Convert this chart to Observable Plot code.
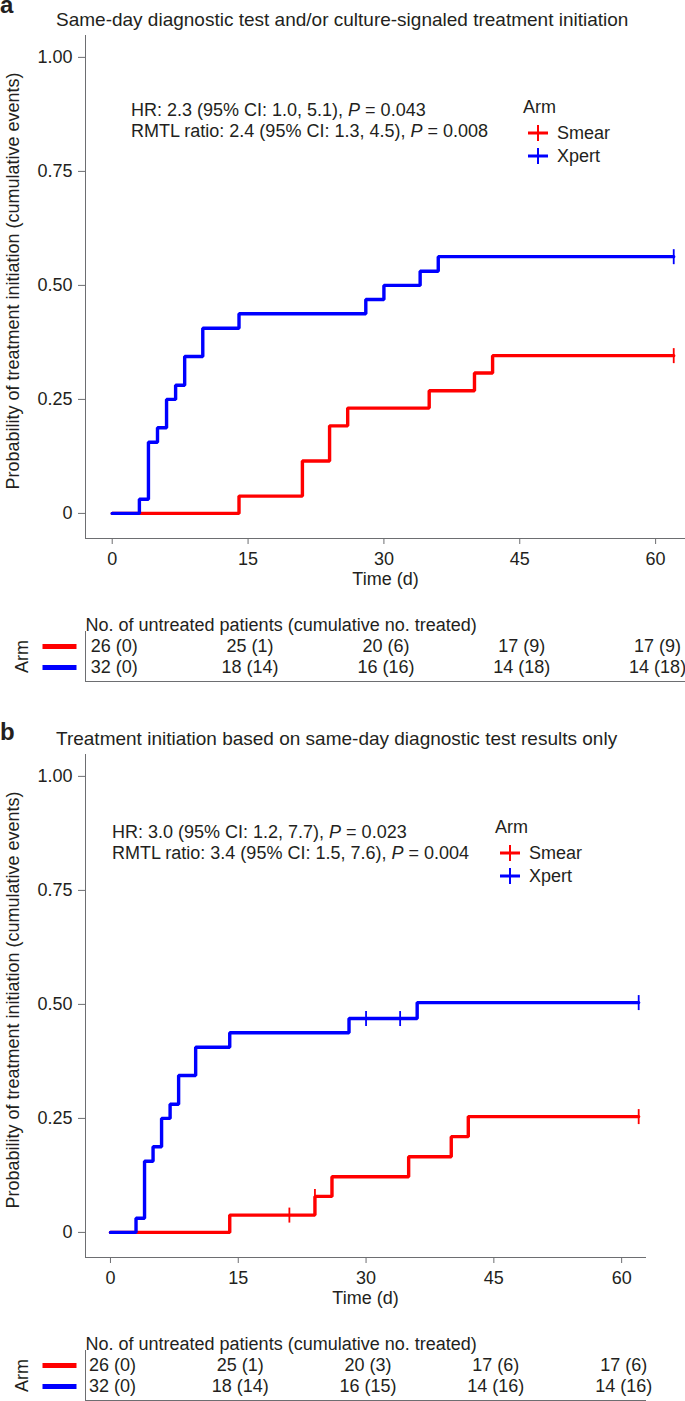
<!DOCTYPE html>
<html><head><meta charset="utf-8">
<script src="https://cdn.jsdelivr.net/npm/d3@7"></script>
<script src="https://cdn.jsdelivr.net/npm/@observablehq/plot@0.6"></script>
<style>
body{margin:0;background:#fff;}
#root{position:relative;width:685px;height:1401px;overflow:hidden;font-family:"Liberation Sans",Arial,sans-serif;color:#231f20;}
.abs{position:absolute;white-space:nowrap;}
svg{position:absolute;left:0;}
</style></head><body><div id="root"></div>
<script>
// ---------- DATA ----------
const arms = ["Smear", "Xpert"];
const armColors = ["#ff0000", "#0000ff"];
const xTicks = [0, 15, 30, 45, 60];
const yTicks = [0, 0.25, 0.5, 0.75, 1];
const riskTimes = [0, 15, 30, 45, 60];

// Panel a
const aSmearT = [0, 14, 21, 24, 26, 35, 40, 42, 62];
const aSmearP = [0, 0.038, 0.115, 0.192, 0.231, 0.269, 0.308, 0.346, 0.346];
const aXpertT = [0, 3, 4, 5, 6, 7, 8, 10, 14, 28, 30, 34, 36, 62];
const aXpertP = [0, 0.031, 0.156, 0.188, 0.25, 0.281, 0.344, 0.406, 0.438, 0.469, 0.5, 0.531, 0.563, 0.563];
const aSmearCensT = [62];
const aSmearCensP = [0.346];
const aXpertCensT = [62];
const aXpertCensP = [0.563];
const aRiskSmear = ["26 (0)", "25 (1)", "20 (6)", "17 (9)", "17 (9)"];
const aRiskXpert = ["32 (0)", "18 (14)", "16 (16)", "14 (18)", "14 (18)"];

// Panel b
const bSmearT = [0, 14, 24, 26, 35, 40, 42, 62];
const bSmearP = [0, 0.038, 0.079, 0.122, 0.166, 0.21, 0.254, 0.254];
const bXpertT = [0, 3, 4, 5, 6, 7, 8, 10, 14, 28, 36, 62];
const bXpertP = [0, 0.031, 0.156, 0.188, 0.25, 0.281, 0.344, 0.406, 0.438, 0.469, 0.504, 0.504];
const bSmearCensT = [21, 24, 62];
const bSmearCensP = [0.038, 0.079, 0.254];
const bXpertCensT = [30, 34, 62];
const bXpertCensP = [0.469, 0.469, 0.504];
const bRiskSmear = ["26 (0)", "25 (1)", "20 (3)", "17 (6)", "17 (6)"];
const bRiskXpert = ["32 (0)", "18 (14)", "16 (15)", "14 (16)", "14 (16)"];

const yLabel = "Probability of treatment initiation (cumulative events)";
const xLabel = "Time (d)";
const tableHeader = "No. of untreated patients (cumulative no. treated)";

// ---------- DRAWING ----------
const FONT = '"Liberation Sans", Arial, sans-serif';
const INK = "#231f20", AXIS = "#6d6e71";
const FS = 18;
const root = document.getElementById("root");
const vbar = {draw(ctx, size) { const r = Math.sqrt(size / Math.PI); ctx.moveTo(0, -r); ctx.lineTo(0, r); }};
const hbar = {draw(ctx, size) { const r = Math.sqrt(size / Math.PI); ctx.moveTo(-r, 0); ctx.lineTo(r, 0); }};

function addText(html, x, yc, opts = {}) {
  const lh = opts.lh || 22;
  const d = document.createElement("div");
  d.className = "abs";
  d.style.left = x + "px";
  d.style.top = (yc - lh / 2) + "px";
  d.style.lineHeight = lh + "px";
  d.style.fontSize = (opts.size || FS) + "px";
  if (opts.bold) d.style.fontWeight = "bold";
  d.innerHTML = html;
  root.appendChild(d);
}
function addPlus(color, cx, cy) {
  const ns = "http://www.w3.org/2000/svg";
  const s = document.createElementNS(ns, "svg");
  s.setAttribute("width", 20); s.setAttribute("height", 16);
  s.style.left = (cx - 10) + "px"; s.style.top = (cy - 8) + "px";
  s.innerHTML = `<line x1="0" x2="20" y1="8" y2="8" stroke="${color}" stroke-width="3"/><line x1="10" x2="10" y1="0" y2="16" stroke="${color}" stroke-width="2"/>`;
  root.appendChild(s);
}

function panel(cfg) {
  const curves = [];
  cfg.series.forEach(s => s.t.forEach((t, i) => curves.push({arm: s.arm, t, p: s.p[i]})));
  const cens = [];
  cfg.censors.forEach(s => s.t.forEach((t, i) => cens.push({arm: s.arm, t, p: s.p[i]})));
  const risk = [];
  cfg.risk.forEach(s => s.labels.forEach((l, i) => risk.push({arm: s.arm, t: riskTimes[i], label: l})));

  const chart = Plot.plot({
    width: 685, height: 600,
    marginTop: 35, marginBottom: 62, marginLeft: 85, marginRight: cfg.mr,
    style: {fontFamily: FONT, fontSize: FS + "px", color: INK, background: "transparent", overflow: "visible"},
    x: {domain: cfg.xDomain},
    y: {domain: [-0.055, 1.048]},
    color: {domain: arms, range: armColors},
    marks: [
      Plot.frame({anchor: "left", stroke: AXIS}),
      Plot.frame({anchor: "bottom", stroke: AXIS}),
      Plot.axisX({ticks: xTicks, tickSize: 6, tickPadding: 8, stroke: AXIS, label: null}),
      Plot.axisY({ticks: yTicks, tickFormat: d => d === 0 ? "0" : d.toFixed(2), tickSize: 7, tickPadding: 6, stroke: AXIS, label: null}),
      Plot.line(curves, {x: "t", y: "p", z: "arm", stroke: "arm", strokeWidth: 3.4, curve: "step-after", strokeLinejoin: "miter"}),
      Plot.dot(cens, {x: "t", y: "p", stroke: "arm", fill: "none", symbol: vbar, r: 7.5, strokeWidth: 1.8}),
      Plot.text([xLabel], {text: d => d, frameAnchor: "bottom", dy: 46, fontSize: FS, fill: INK}),
      Plot.text([yLabel], {text: d => d, frameAnchor: "left", textAnchor: "middle", rotate: -90, dx: -72, dy: -6, fontSize: FS, fill: INK})
    ]
  });
  chart.style.top = cfg.top + "px";
  root.appendChild(chart);

  const table = Plot.plot({
    width: 685, height: 85,
    marginTop: 31, marginBottom: 4, marginLeft: 85, marginRight: cfg.mr,
    style: {fontFamily: FONT, fontSize: FS + "px", color: INK, background: "transparent", overflow: "visible"},
    x: {domain: cfg.xDomain, axis: null},
    y: {type: "point", domain: arms, padding: 0.64, axis: null},
    color: {domain: arms, range: armColors},
    marks: [
      Plot.frame({anchor: "left", stroke: AXIS}),
      Plot.frame({anchor: "bottom", stroke: AXIS}),
      Plot.text(risk, {x: "t", y: "arm", text: "label", fill: INK, fontSize: FS, dx: 2}),
      Plot.text([tableHeader], {text: d => d, frameAnchor: "top-left", textAnchor: "start", dy: -13, fontSize: FS, fill: INK}),
      Plot.dot(arms, {y: d => d, frameAnchor: "left", dx: -26, symbol: hbar, r: 17, stroke: d => d, strokeWidth: 5}),
      Plot.text(["Arm"], {text: d => d, frameAnchor: "left", textAnchor: "middle", rotate: -90, dx: -63, fontSize: FS, fill: INK})
    ]
  });
  table.style.top = (cfg.top + 600) + "px";
  root.appendChild(table);

  addText(cfg.letter, 0, cfg.letterY, {size: 24, bold: true, lh: 10});
  addText(cfg.title, 56, cfg.top + 20, {size: 19});
  addText(cfg.hr, cfg.annX, cfg.top + cfg.annY);
  addText(cfg.rmtl, cfg.annX, cfg.top + cfg.annY + 21);
  addText("Arm", cfg.legX, cfg.top + cfg.legY);
  arms.forEach((a, i) => {
    addPlus(armColors[i], cfg.legX + 15, cfg.top + cfg.legY + 26 + 23 * i);
    addText(a, cfg.legX + 34, cfg.top + cfg.legY + 26 + 23 * i);
  });
}

panel({
  top: 0, letter: "a", letterY: 5, mr: 0, xDomain: [-2.95, 63.3],
  title: "Same-day diagnostic test and/or culture-signaled treatment initiation",
  series: [{arm: "Smear", t: aSmearT, p: aSmearP}, {arm: "Xpert", t: aXpertT, p: aXpertP}],
  censors: [{arm: "Smear", t: aSmearCensT, p: aSmearCensP}, {arm: "Xpert", t: aXpertCensT, p: aXpertCensP}],
  risk: [{arm: "Smear", labels: aRiskSmear}, {arm: "Xpert", labels: aRiskXpert}],
  hr: "HR: 2.3 (95% CI: 1.0, 5.1), <i>P</i> = 0.043",
  rmtl: "RMTL ratio: 2.4 (95% CI: 1.3, 4.5), <i>P</i> = 0.008",
  annX: 131, annY: 110, legX: 523, legY: 107
});
panel({
  top: 719, letter: "b", letterY: 732, mr: 40, xDomain: [-2.93, 62.8],
  title: "Treatment initiation based on same-day diagnostic test results only",
  series: [{arm: "Smear", t: bSmearT, p: bSmearP}, {arm: "Xpert", t: bXpertT, p: bXpertP}],
  censors: [{arm: "Smear", t: bSmearCensT, p: bSmearCensP}, {arm: "Xpert", t: bXpertCensT, p: bXpertCensP}],
  risk: [{arm: "Smear", labels: bRiskSmear}, {arm: "Xpert", labels: bRiskXpert}],
  hr: "HR: 3.0 (95% CI: 1.2, 7.7), <i>P</i> = 0.023",
  rmtl: "RMTL ratio: 3.4 (95% CI: 1.5, 7.6), <i>P</i> = 0.004",
  annX: 112, annY: 113, legX: 495, legY: 108
});
</script></body></html>
